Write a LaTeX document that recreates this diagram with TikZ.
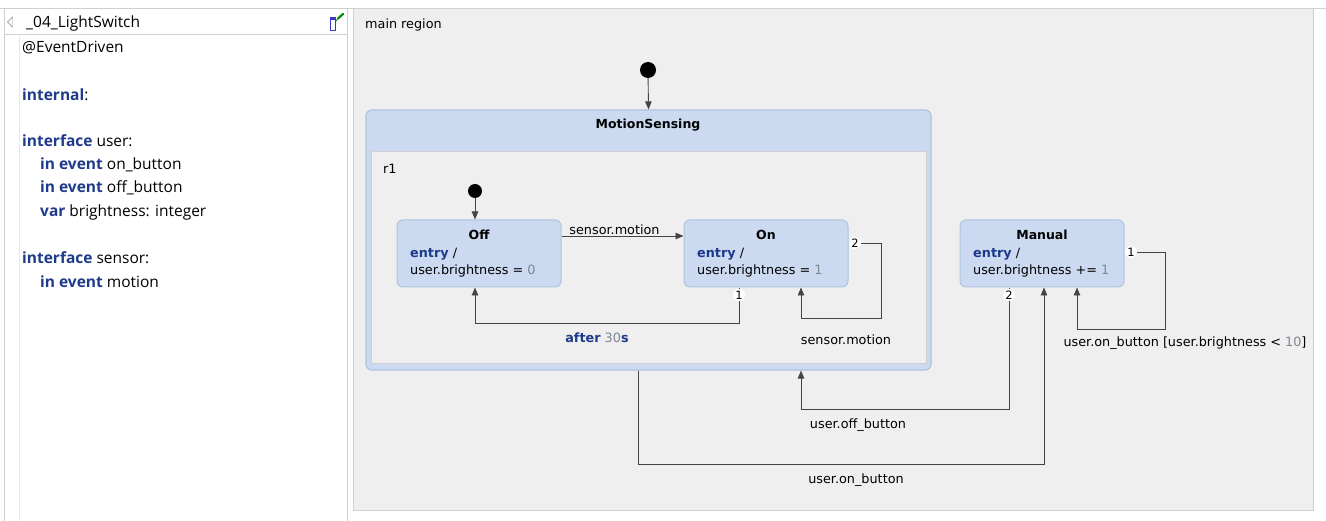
\documentclass[tikz,border=0pt]{standalone}
\usepackage{fontspec}
\setmainfont{DejaVu Sans}
\newfontfamily\panelfont{Open Sans}
\usetikzlibrary{arrows.meta,positioning}

\definecolor{kwblue}{HTML}{1E3A8A}
\definecolor{numgray}{HTML}{7D8794}
\definecolor{statefill}{HTML}{CCDAF1}
\definecolor{stateline}{HTML}{AFC2DD}
\definecolor{regionfill}{HTML}{EFEFEF}
\definecolor{regionline}{HTML}{D0D0D0}
\definecolor{edgegray}{HTML}{444444}

\newcommand{\kw}[1]{\textcolor{kwblue}{\textbf{#1}}}
\newcommand{\numv}[1]{\textcolor{numgray}{#1}}

\tikzset{
  statebox/.style={draw=stateline, fill=statefill, line width=1pt, rounded corners=6pt,
    minimum width=164pt, minimum height=67pt, inner sep=0pt},
  trans/.style={draw=edgegray, line width=0.9pt, -{Triangle[length=8pt,width=6.5pt]}},
  badge/.style={circle, fill=white, inner sep=0pt, minimum size=12pt,
    font=\fontsize{11.5}{12}\selectfont},
  lbl/.style={font=\fontsize{12.8}{15}\selectfont, inner sep=1pt, yshift=-1.5pt},
  ttl/.style={font=\fontsize{12.5}{15}\selectfont\bfseries, inner sep=1pt, yshift=-1pt},
  deftext/.style={font=\panelfont\fontsize{15.5}{18}\selectfont, anchor=west, inner sep=0pt},
  initdot/.style={circle, fill=black, inner sep=0pt}
}

\begin{document}
\begin{tikzpicture}[x=1pt,y=-1pt]
\useasboundingbox (0,0) rectangle (1326,521);
\fill[white] (0,0) rectangle (1326,521);

% definition section
\draw[regionline] (0,8.5) -- (1326,8.5);
\draw[regionline] (4.5,8.5) rectangle (347.5,530);
\draw[regionline] (4.5,34.5) -- (347.5,34.5);
\draw[regionline!50] (19.5,34.5) -- (19.5,521);
\draw[gray] (12.5,17) -- (7.5,22) -- (12.5,27) -- cycle;
\draw[blue!55!gray, fill=white] (330.5,17.5) rectangle (335.5,30.5);
\fill[blue!55!gray] (330.5,17.5) rectangle (335.5,20);
\draw[green!55!black, line width=2.2pt, line cap=round] (338,18.5) -- (343,14);
\draw[green!55!black, line width=0.8pt] (338,18.5) -- (335.5,21.5);
\node[deftext] (name) at (26,23) {\_04\_LightSwitch};

\node[deftext] (ann) at (22,48) {@EventDriven};
\node[deftext] (internal) at (22,95) {\kw{internal}:};
\node[deftext] (ifuser) at (22,141) {\kw{interface} user:};
\node[deftext] (onbtn) at (40,165) {\kw{in event} on\_button};
\node[deftext] (offbtn) at (40,188) {\kw{in event} off\_button};
\node[deftext] (bright) at (40,212) {\kw{var} brightness: integer};
\node[deftext] (ifsensor) at (22,258) {\kw{interface} sensor:};
\node[deftext] (motionev) at (40,282) {\kw{in event} motion};

% main region
\draw[regionline, fill=regionfill] (353.5,8.5) rectangle (1313.5,510.5);
\node[lbl, anchor=west] (mainlbl) at (364,23) {main region};
\node[initdot, minimum size=16pt] (init) at (648,70) {};

\node[draw=stateline, fill=statefill, line width=1.2pt, rounded corners=6pt,
  minimum width=565pt, minimum height=260pt] (motion) at (648.5,240) {};
\node[ttl] (motiontitle) at (648,124) {MotionSensing};
\node[draw=regionline, fill=regionfill, line width=1pt,
  minimum width=555pt, minimum height=212pt] (r1) at (648.5,258) {};
\node[lbl, anchor=west] (r1lbl) at (382,167) {r1};
\node[initdot, minimum size=14pt] (init2) at (475,191) {};

\node[statebox] (off) at (479,253.5) {};
\node[ttl] (offtitle) at (479,234) {Off};
\node[lbl, anchor=west] (offentry) at (409,253) {\kw{entry} /};
\node[lbl, anchor=west] (offact) at (409,269) {user.brightness = \numv{0}};

\node[statebox] (on) at (766,253.5) {};
\node[ttl] (ontitle) at (766,234) {On};
\node[lbl, anchor=west] (onentry) at (696,253) {\kw{entry} /};
\node[lbl, anchor=west] (onact) at (696,269) {user.brightness = \numv{1}};

\node[statebox] (manual) at (1042,253.5) {};
\node[ttl] (mantitle) at (1042,234) {Manual};
\node[lbl, anchor=west] (manentry) at (972,253) {\kw{entry} /};
\node[lbl, anchor=west] (manact) at (972,269) {user.brightness += \numv{1}};

% transitions
\draw[trans] (init) -- (motion.north);
\draw[trans] (init2) -- (init2 |- off.north);
\draw[trans] ([yshift=17.5pt]off.east) -- node[lbl, above=1pt, xshift=-8pt] (offonlbl) {sensor.motion} ([yshift=17.5pt]on.west);

\draw[trans] (739,288) -- ++(0,35) -| ([xshift=-4pt]off.south);
\node[badge] (onb1) at (739,295) {1};
\node[lbl] (afterlbl) at (597,336) {\kw{after} \numv{30}\kw{s}};

\draw[trans] (849,243) -| ++(32,75) -| ([xshift=35pt]on.south);
\node[badge] (onb2) at (855,243) {2};
\node[lbl] (selflbl) at (846,338) {sensor.motion};

\draw[trans] (1125,252) -| ++(40,77) -| ([xshift=35pt]manual.south);
\node[badge] (manb1) at (1131,252) {1};
\node[lbl] (guardlbl) at (1185,342) {user.on\_button [user.brightness < \numv{10}]};

\draw[trans] (1009,288) -- ++(0,121) -| ([xshift=152.5pt]motion.south);
\node[badge] (manb2) at (1009,295) {2};
\node[lbl] (offbtnlbl) at (858,424) {user.off\_button};

\draw[trans] ([xshift=-10.5pt]motion.south) -- ++(0,94) -| ([xshift=2pt]manual.south);
\node[lbl] (onbtnlbl) at (856,479) {user.on\_button};

\end{tikzpicture}
\end{document}
